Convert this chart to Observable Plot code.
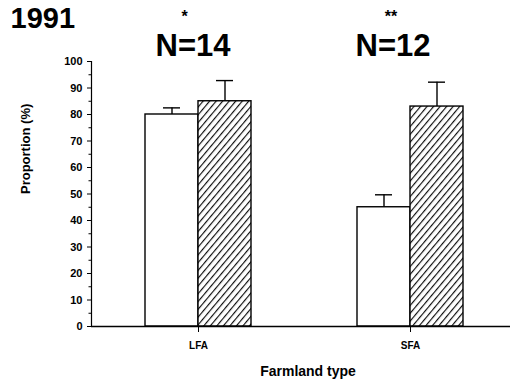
<!DOCTYPE html>
<html>
<head>
<meta charset="utf-8">
<script src="https://cdn.jsdelivr.net/npm/d3@7"></script>
<script src="https://cdn.jsdelivr.net/npm/@observablehq/plot@0.6"></script>
<style>
  html, body { margin: 0; padding: 0; background: #fff; }
  svg { font-family: "Liberation Sans", Arial, Helvetica, sans-serif; }
</style>
</head>
<body>
<div id="chart"></div>
<script>
const year = "1991";
const categories = ["LFA", "SFA"];
const openValues = [80, 45];
const openErrors = [82.5, 49.7];
const hatchedValues = [85, 83];
const hatchedErrors = [92.8, 92.2];
const sampleSizes = ["N=14", "N=12"];
const significance = ["*", "**"];
const yTicks = [0, 10, 20, 30, 40, 50, 60, 70, 80, 90, 100];
const yMinorTicks = [5, 15, 25, 35, 45, 55, 65, 75, 85, 95];
const xLabel = "Farmland type";
const yLabel = "Proportion (%)";

const openData = categories.map((c, i) => ({cat: c, v: openValues[i], e: openErrors[i]}));
const hatchedData = categories.map((c, i) => ({cat: c, v: hatchedValues[i], e: hatchedErrors[i]}));
const topData = categories.map((c, i) => ({cat: c, n: sampleSizes[i], s: significance[i]}));

const half = 53;
const bold = "bold";

const plot = Plot.plot({
  width: 513,
  height: 380,
  marginLeft: 91,
  marginRight: 3,
  marginTop: 61,
  marginBottom: 54,
  x: {domain: categories, paddingInner: 0.5, paddingOuter: 0.238, align: 0.53, axis: null},
  y: {domain: [0, 100], axis: null},
  marks: [
    Plot.barY(openData, {x: "cat", y: "v", fill: "white", stroke: "black", strokeWidth: 1.4, insetRight: half}),
    Plot.barY(hatchedData, {x: "cat", y: "v", fill: "url(#hatch)", stroke: "black", strokeWidth: 1.4, insetLeft: half}),
    Plot.ruleX(openData, {x: "cat", y1: "v", y2: "e", dx: -half / 2, strokeWidth: 1.4}),
    Plot.ruleX(hatchedData, {x: "cat", y1: "v", y2: "e", dx: half / 2, strokeWidth: 1.4}),
    Plot.tickY(openData, {x: "cat", y: "e", insetLeft: 18, insetRight: 71, strokeWidth: 1.4}),
    Plot.tickY(hatchedData, {x: "cat", y: "e", insetLeft: 71, insetRight: 18, strokeWidth: 1.4}),
    Plot.axisY({ticks: yTicks, tickSize: 4, tickPadding: 5, fontSize: 11, fontWeight: bold, label: null, ariaLabel: "y-major"}),
    Plot.axisY({ticks: yMinorTicks, tickSize: 2.5, tickFormat: () => "", label: null}),
    Plot.axisX({tickSize: 6, tickPadding: 9, fontSize: 10, fontWeight: bold, label: null, ariaLabel: "x-major"}),
    Plot.frame({anchor: "left", strokeWidth: 1.2}),
    Plot.ruleY([0], {strokeWidth: 1.4}),
    Plot.text([year], {frameAnchor: "top-left", dx: -81, dy: -54, lineAnchor: "top", textAnchor: "start", fontSize: 29, fontWeight: bold, ariaLabel: "year"}),
    Plot.text(topData, {filter: d => d.cat === "LFA", x: "cat", text: "n", frameAnchor: "top", dy: -6, dx: -5.5, lineAnchor: "bottom", fontSize: 31, fontWeight: bold}),
    Plot.text(topData, {filter: d => d.cat === "SFA", x: "cat", text: "n", frameAnchor: "top", dy: -6, dx: -17.5, lineAnchor: "bottom", fontSize: 31, fontWeight: bold}),
    Plot.text(topData, {filter: d => d.cat === "LFA", x: "cat", text: "s", frameAnchor: "top", dy: -51, dx: -14, lineAnchor: "top", fontSize: 16, fontWeight: bold}),
    Plot.text(topData, {filter: d => d.cat === "SFA", x: "cat", text: "s", frameAnchor: "top", dy: -51, dx: -19.5, lineAnchor: "top", fontSize: 16, fontWeight: bold}),
    Plot.text([xLabel], {frameAnchor: "bottom", dy: 49, dx: 7, lineAnchor: "bottom", fontSize: 14, fontWeight: bold, ariaLabel: "x-title"}),
    Plot.text([yLabel], {frameAnchor: "left", dx: -66, rotate: -90, lineAnchor: "middle", fontSize: 13, fontWeight: bold, ariaLabel: "y-title"})
  ]
});

const svg = d3.select(plot);
const defs = svg.insert("defs", ":first-child");
const pat = defs.append("pattern")
  .attr("id", "hatch")
  .attr("patternUnits", "userSpaceOnUse")
  .attr("width", 5)
  .attr("height", 5)
  .attr("patternTransform", "rotate(40)");
pat.append("rect").attr("width", 5).attr("height", 5).attr("fill", "white");
pat.append("line").attr("x1", 0.6).attr("y1", 0).attr("x2", 0.6).attr("y2", 5)
  .attr("stroke", "black").attr("stroke-width", 1.1);

svg.selectAll('g[aria-label="y-major"] text').style("letter-spacing", "1px");
svg.selectAll('g[aria-label="x-major"] text').style("letter-spacing", "2.5px");
svg.selectAll('g[aria-label="x-title"] text').style("letter-spacing", "1.8px");
svg.selectAll('g[aria-label="y-title"] text').style("letter-spacing", "1.6px");
svg.selectAll('g[aria-label="year"] text').style("letter-spacing", "2px");

document.getElementById("chart").appendChild(plot);
</script>
</body>
</html>
